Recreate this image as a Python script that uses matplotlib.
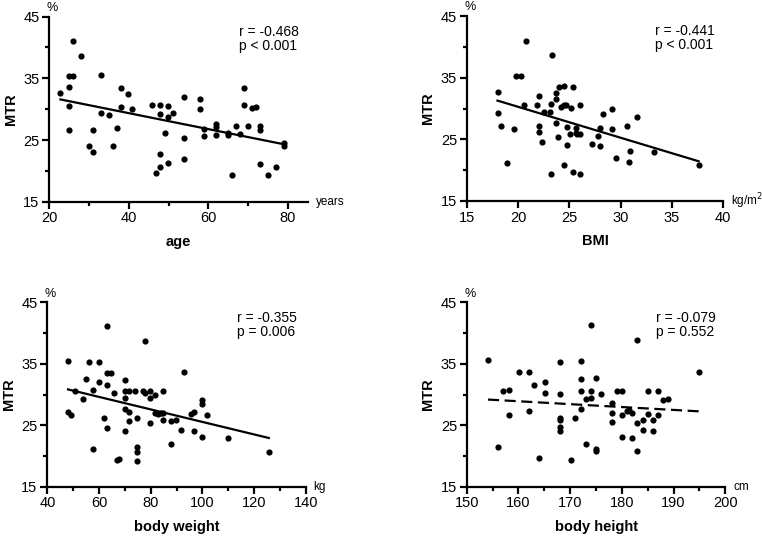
import matplotlib

matplotlib.use("Agg")
import matplotlib.pyplot as plt
import numpy as np
from matplotlib.ticker import MultipleLocator

plt.rcParams["font.family"] = ["Liberation Sans", "DejaVu Sans"]

# MTR (%) against age, BMI, body weight and body height
age = [22.8, 24.9, 24.9, 25.9, 25.9, 27.9, 24.9, 24.9, 29.9, 30.9, 30.9, 32.9, 32.9, 34.9, 35.9,
       36.9, 37.9, 37.9, 39.9, 40.9, 45.9, 47.9, 47.9, 49.8, 49.8, 51.0, 49.0, 47.9, 47.9, 46.9,
       49.8, 53.8, 53.8, 53.8, 57.8, 57.8, 58.8, 58.8, 61.8, 61.8, 61.8, 64.9, 64.9, 66.9, 67.9,
       65.9, 68.9, 68.9, 69.9, 70.9, 71.9, 72.9, 72.9, 72.9, 74.9, 76.9, 78.9, 78.9]
mtr_age = [32.7, 33.6, 35.3, 35.3, 41.1, 38.6, 30.5, 26.6, 24.0, 23.1, 26.6, 35.5, 29.4, 29.0, 24.0,
           26.9, 33.4, 30.4, 32.5, 30.0, 30.6, 30.6, 29.2, 30.5, 28.7, 29.4, 26.1, 22.8, 20.7, 19.6,
           21.3, 32.0, 25.3, 21.9, 31.6, 30.1, 26.8, 25.6, 27.6, 27.1, 25.8, 26.1, 25.8, 27.2, 25.9,
           19.3, 33.4, 30.6, 27.2, 30.2, 30.4, 27.2, 26.6, 21.1, 19.3, 20.7, 24.5, 24.1]

bmi = [18.0, 18.0, 18.3, 18.9, 19.6, 19.8, 20.3, 20.8, 20.6, 21.8, 22.0, 22.0, 22.0, 22.3, 22.5,
       23.1, 23.2, 23.3, 23.2, 23.7, 23.7, 23.7, 23.9, 24.0, 24.2, 24.5, 24.5, 24.7, 24.8, 24.8,
       24.5, 25.1, 25.2, 25.4, 25.4, 25.6, 25.6, 25.7, 26.0, 26.0, 26.0, 27.2, 27.8, 28.0, 28.0,
       28.3, 29.2, 29.2, 29.5, 30.6, 30.8, 30.9, 31.6, 33.2, 37.6]
mtr_bmi = [32.6, 29.2, 27.2, 21.1, 26.7, 35.3, 35.3, 41.0, 30.5, 30.6, 32.0, 27.2, 26.2, 24.5, 29.4,
           29.4, 30.7, 38.6, 19.4, 32.5, 31.6, 27.7, 25.4, 33.5, 30.3, 33.6, 30.6, 30.5, 27.0, 24.1,
           20.8, 25.8, 30.1, 33.5, 19.7, 26.8, 26.1, 25.8, 25.8, 30.5, 19.4, 24.2, 25.6, 26.9, 24.0,
           29.1, 30.0, 26.7, 22.0, 27.1, 21.4, 23.1, 28.6, 22.9, 20.8]

weight = [48.0, 48.0, 49.0, 50.8, 53.9, 55.0, 56.0, 57.8, 57.8, 59.9, 59.9, 61.9, 63.0, 63.0, 63.0,
          63.0, 64.8, 65.8, 66.8, 67.9, 69.9, 69.9, 69.9, 69.9, 69.9, 71.7, 71.7, 71.7, 73.8, 74.8,
          74.8, 74.8, 74.8, 76.9, 77.9, 77.9, 79.7, 79.7, 79.7, 81.8, 81.8, 82.8, 83.9, 84.9, 84.9,
          84.9, 87.7, 87.7, 89.8, 91.9, 92.9, 95.7, 96.8, 96.8, 99.9, 99.9, 99.9, 101.9, 109.9, 125.7]
mtr_weight = [35.5, 27.2, 26.7, 30.6, 29.2, 32.6, 35.3, 30.7, 21.1, 35.3, 32.1, 26.1, 41.2, 33.5, 31.5,
              24.5, 33.5, 30.2, 19.3, 19.5, 32.4, 30.6, 29.4, 27.6, 24.1, 30.6, 27.2, 25.7, 30.6, 26.1,
              21.4, 20.7, 19.2, 30.6, 38.7, 30.2, 30.6, 29.4, 25.3, 30.0, 27.0, 26.8, 27.0, 30.5, 27.0,
              25.8, 25.7, 21.9, 25.8, 24.2, 33.7, 26.9, 27.1, 24.0, 29.1, 28.5, 23.1, 26.7, 22.9, 20.7]

height = [154.1, 156.1, 157.1, 158.1, 158.1, 160.1, 162.0, 162.0, 163.0, 164.0, 165.1, 165.1, 168.0, 168.0,
          168.0, 168.0, 168.0, 168.0, 170.1, 171.0, 172.0, 172.0, 172.0, 172.0, 173.1, 173.1, 174.0, 174.0,
          174.0, 175.0, 175.0, 175.0, 176.0, 178.0, 178.0, 178.0, 179.0, 180.0, 180.0, 180.0, 180.9, 181.4,
          182.0, 182.0, 183.0, 183.0, 183.0, 184.0, 184.0, 185.1, 185.1, 186.0, 186.0, 187.0, 187.0, 188.0,
          188.9, 195.0]
mtr_height = [35.6, 21.4, 30.6, 30.7, 26.7, 33.6, 33.6, 27.3, 31.6, 19.7, 32.0, 30.2, 35.3, 30.1,
              26.2, 25.9, 24.7, 24.0, 19.3, 26.2, 35.4, 32.5, 30.6, 27.7, 29.3, 21.9, 41.3, 30.6,
              29.5, 32.7, 21.2, 20.8, 30.1, 28.6, 27.0, 25.6, 30.6, 30.5, 26.7, 23.1, 27.3, 27.5,
              27.0, 22.9, 38.8, 25.4, 20.8, 25.9, 24.2, 30.6, 26.9, 25.9, 24.0, 30.6, 26.7, 29.1,
              29.3, 33.7]

stats = [("r = -0.468", "p < 0.001"), ("r = -0.441", "p < 0.001"),
         ("r = -0.355", "p = 0.006"), ("r = -0.079", "p = 0.552")]

panels = [
    dict(x=age, y=mtr_age, label="age", unit="years", xlim=(20, 85), minor=10,
         ticks=[20, 40, 60, 80], rect=[0.0647, 0.6244, 0.3393, 0.3446], dashed=False),
    dict(x=bmi, y=mtr_bmi, label="BMI", unit="kg/m$^2$", xlim=(15, 40), minor=5,
         ticks=[15, 20, 25, 30, 35, 40], rect=[0.6125, 0.6257, 0.3367, 0.3445], dashed=False),
    dict(x=weight, y=mtr_weight, label="body weight", unit="kg", xlim=(40, 140), minor=10,
         ticks=[40, 60, 80, 100, 120, 140], rect=[0.0621, 0.0937, 0.3391, 0.3433], dashed=False),
    dict(x=height, y=mtr_height, label="body height", unit="cm", xlim=(150, 200), minor=5,
         ticks=[150, 160, 170, 180, 190, 200], rect=[0.6125, 0.0937, 0.3394, 0.3433], dashed=True),
]

fig = plt.figure(figsize=(7.62, 5.37), dpi=100)

for p, (r_txt, p_txt) in zip(panels, stats):
    ax = fig.add_axes(p["rect"])
    x = np.asarray(p["x"])
    y = np.asarray(p["y"])
    ax.scatter(x, y, s=20, color="black", zorder=3, linewidths=0, clip_on=False)

    # least-squares line across the observed range
    slope, intercept = np.polyfit(x, y, 1)
    xs = np.array([x.min(), x.max()])
    ax.plot(xs, intercept + slope * xs, color="black", lw=1.6,
            ls=(0, (5, 2.5)) if p["dashed"] else "-", zorder=2)

    ax.set_xlim(*p["xlim"])
    ax.set_ylim(15, 45)
    ax.set_xticks(p["ticks"])
    ax.xaxis.set_minor_locator(MultipleLocator(p["minor"]))
    ax.set_yticks([15, 25, 35, 45])
    ax.yaxis.set_minor_locator(MultipleLocator(5))

    for side in ("top", "right"):
        ax.spines[side].set_visible(False)
    for side in ("left", "bottom"):
        ax.spines[side].set_linewidth(1.6)
    ax.tick_params(which="major", direction="out", length=5, width=1.6, labelsize=10.5, pad=2)
    ax.tick_params(which="minor", direction="out", length=3, width=1.6)

    ax.set_ylabel("MTR", fontsize=10.5, fontweight="bold", labelpad=4)
    ax.set_xlabel(p["label"], fontsize=10.5, fontweight="bold", labelpad=7)

    ax.text(-0.01, 1.015, "%", transform=ax.transAxes, fontsize=9, ha="left", va="bottom")
    ax.text(1.03, 0.0, p["unit"], transform=ax.transAxes, fontsize=8.5, ha="left", va="center")
    ax.text(0.733, 0.955, r_txt + "\n" + p_txt, transform=ax.transAxes, fontsize=10,
            ha="left", va="top", linespacing=1.0)

fig.savefig("out.png", dpi=100)
